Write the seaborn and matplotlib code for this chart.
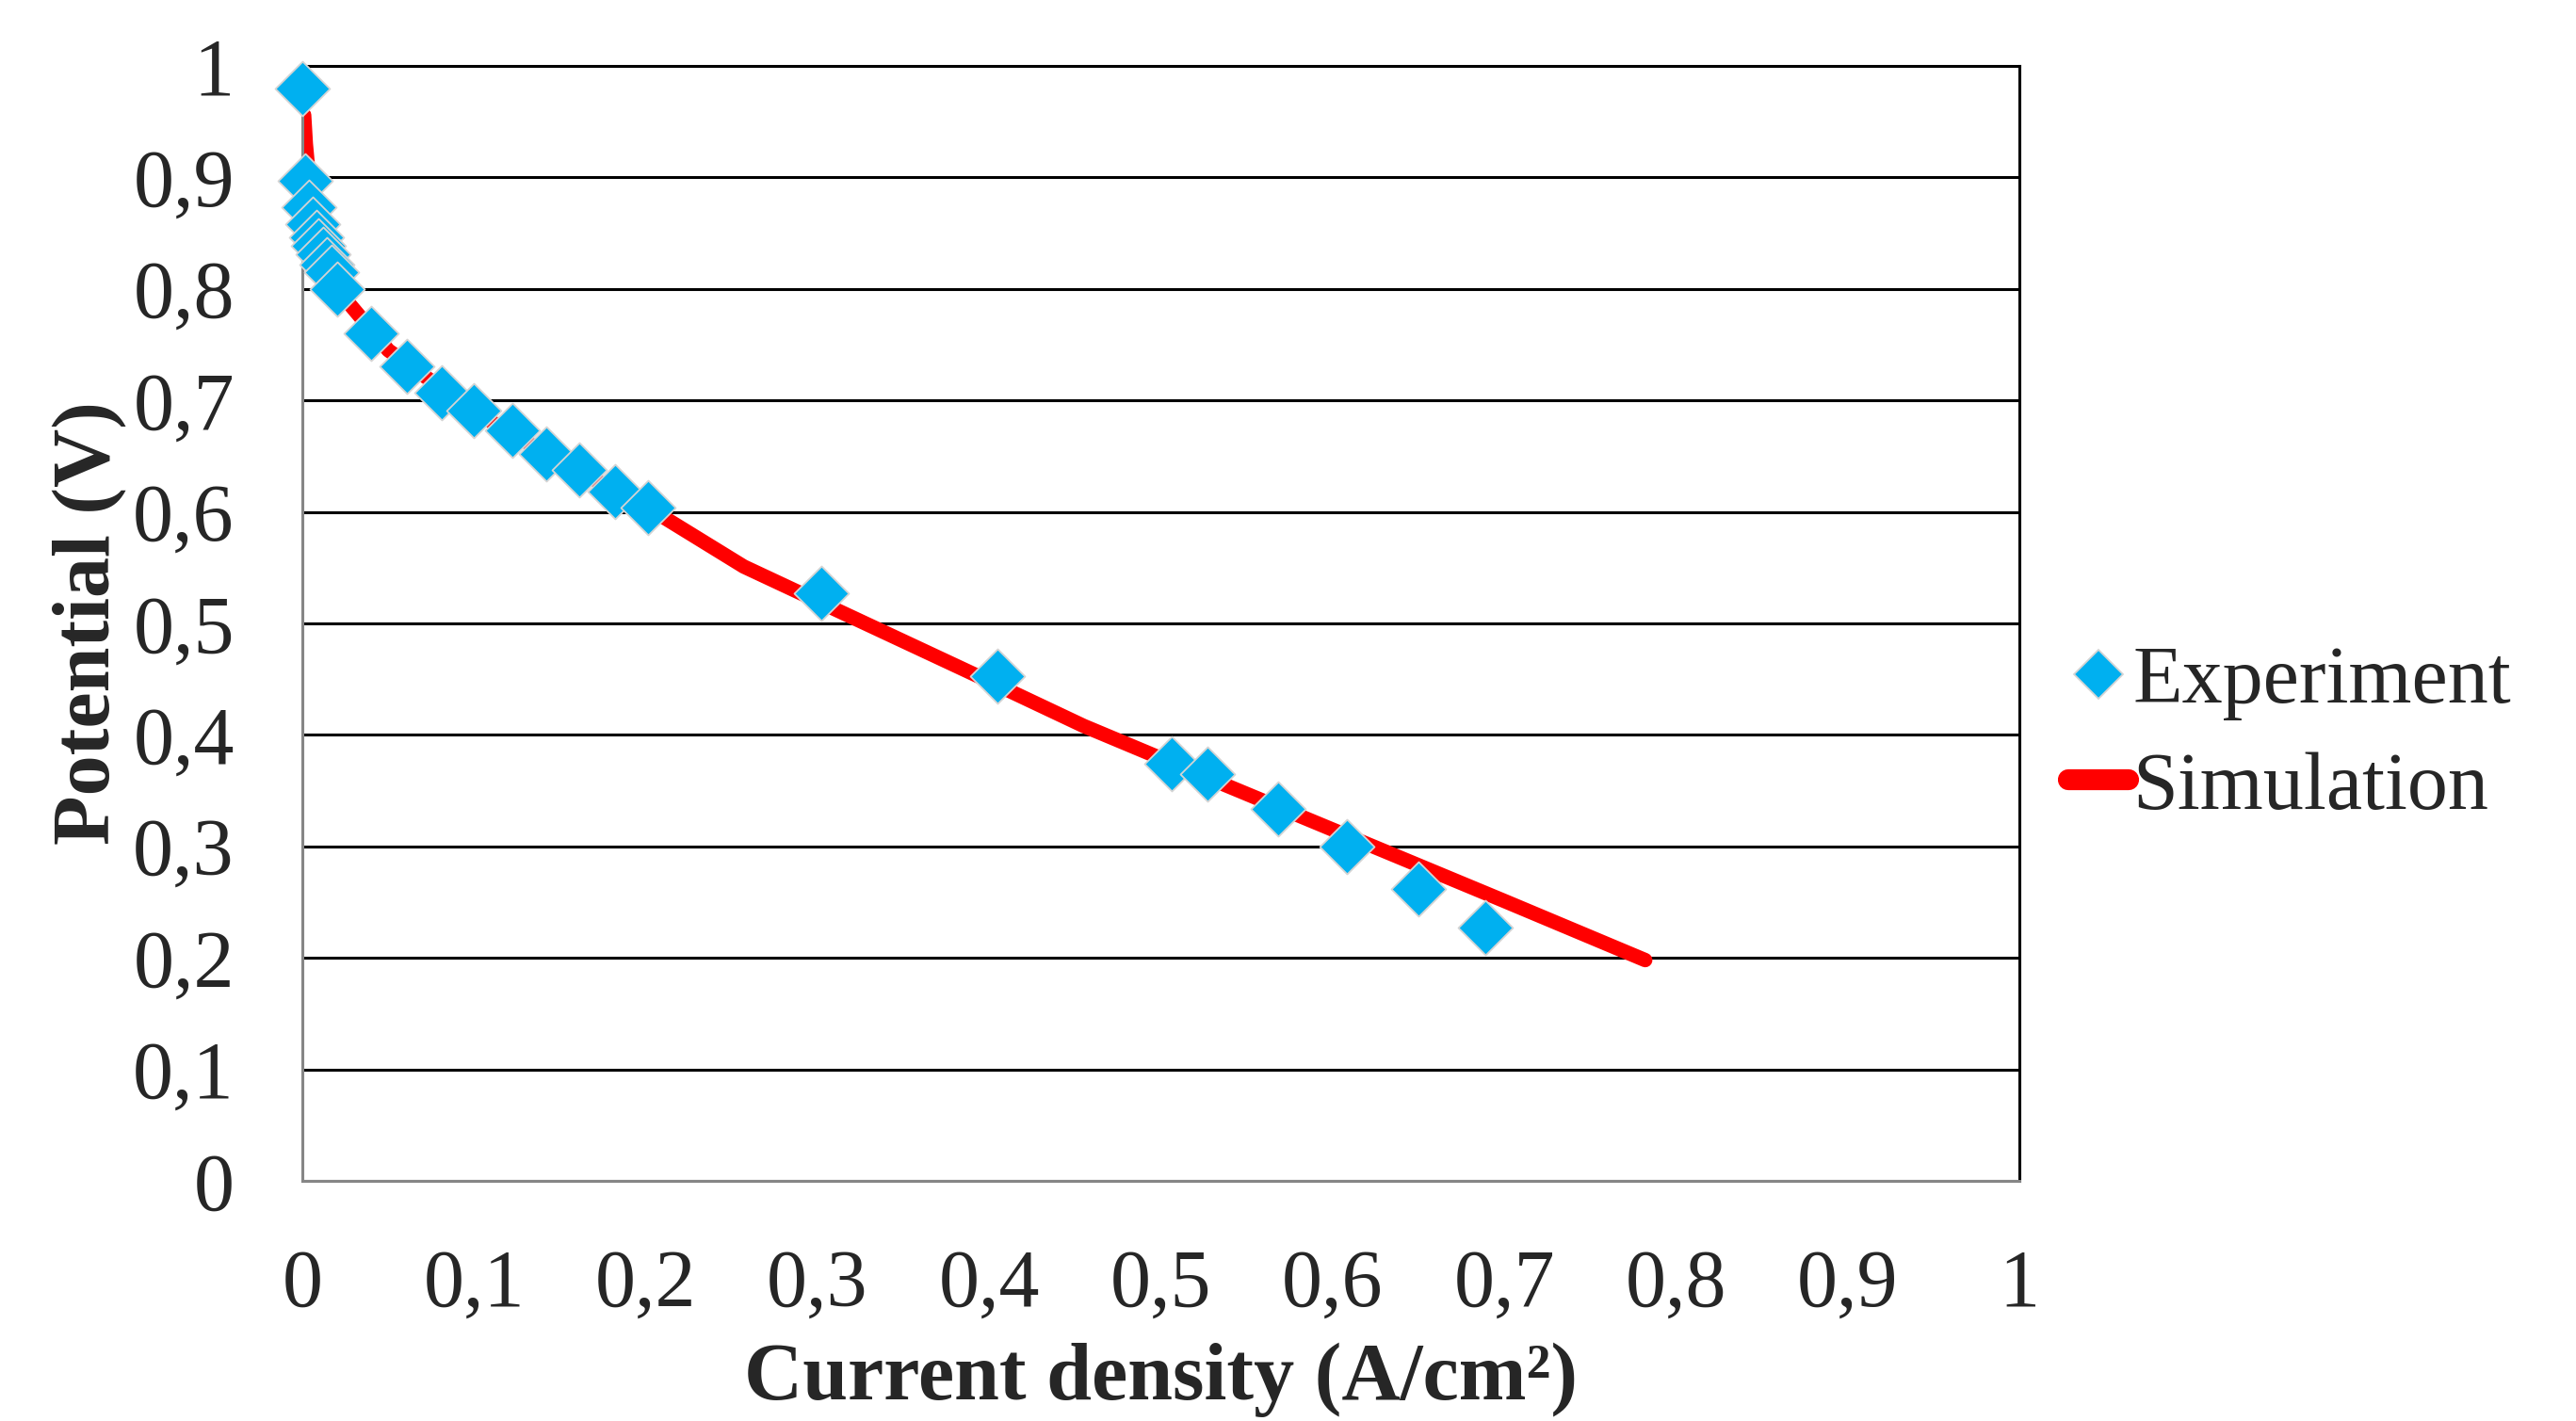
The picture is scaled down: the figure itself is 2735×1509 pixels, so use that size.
import matplotlib
matplotlib.use("Agg")
from matplotlib import pyplot as plt
from matplotlib.lines import Line2D
import pandas as pd
import seaborn as sns

# experiment points (current density A/cm2, potential V)
exp_current = [0.0, 0.0016, 0.004, 0.006, 0.008, 0.0095, 0.012, 0.014, 0.017, 0.020,
               0.040, 0.061, 0.081, 0.100, 0.1225, 0.142, 0.161, 0.182, 0.2015,
               0.302, 0.405, 0.506, 0.527, 0.568, 0.6085, 0.650, 0.689]
exp_potential = [0.980, 0.897, 0.873, 0.858, 0.846, 0.839, 0.831, 0.822, 0.815, 0.800,
                 0.760, 0.731, 0.707, 0.691, 0.673, 0.652, 0.638, 0.618, 0.604,
                 0.527, 0.453, 0.374, 0.365, 0.334, 0.300, 0.262, 0.227]

# simulation curve
sim_current = [0.001, 0.002, 0.005, 0.01, 0.02, 0.05, 0.1, 0.15, 0.2, 0.257,
               0.3, 0.4, 0.455, 0.5, 0.6, 0.7, 0.782]
sim_potential = [0.956, 0.93, 0.88, 0.845, 0.80, 0.745, 0.69, 0.645, 0.605, 0.551,
                 0.52, 0.448, 0.408, 0.379, 0.315, 0.251, 0.198]

x_ticks = [0, 0.1, 0.2, 0.3, 0.4, 0.5, 0.6, 0.7, 0.8, 0.9, 1]
tick_labels = ["0", "0,1", "0,2", "0,3", "0,4", "0,5", "0,6", "0,7", "0,8", "0,9", "1"]

BLUE = "#00B0F0"
RED = "#FF0000"

exp_df = pd.DataFrame({"current": exp_current, "potential": exp_potential})
sim_df = pd.DataFrame({"current": sim_current, "potential": sim_potential})

sns.set_style("white")
plt.rcParams['font.family'] = ['Liberation Serif', 'DejaVu Serif']

fig = plt.figure(figsize=(27.35, 15.09), dpi=100)
ax = fig.add_axes([0.1174, 0.169, 0.6666, 0.7846])

# horizontal gridlines
ax.yaxis.grid(True, color="black", linewidth=2.2)
ax.set_axisbelow(True)

sns.lineplot(data=sim_df, x="current", y="potential", ax=ax, color=RED,
             linewidth=11, solid_capstyle="round", solid_joinstyle="round",
             sort=False, estimator=None)
sns.scatterplot(data=exp_df, x="current", y="potential", ax=ax, color=BLUE,
                marker="D", s=29.5 ** 2, edgecolor="#d4d4d4", linewidth=1.3,
                zorder=3, clip_on=False)

ax.set_xlim(0, 1)
ax.set_ylim(0, 1)
ax.set_xticks(x_ticks)
ax.set_xticklabels(tick_labels)
ax.set_yticks(x_ticks)
ax.set_yticklabels(tick_labels)
ax.tick_params(axis="both", length=0, labelsize=62)
ax.tick_params(axis="x", pad=52)
ax.tick_params(axis="y", pad=52)

for side in ["left", "bottom"]:
    ax.spines[side].set_color("#868686")
    ax.spines[side].set_linewidth(2.2)
for side in ["top", "right"]:
    ax.spines[side].set_visible(True)
    ax.spines[side].set_color("black")
    ax.spines[side].set_linewidth(2.2)

ax.set_xlabel("Current density (A/cm²)", fontsize=62, fontweight="bold", labelpad=14)
ax.set_ylabel("Potential (V)", fontsize=62, fontweight="bold", labelpad=5)

handles = [
    Line2D([], [], color=BLUE, marker="D", markersize=26, linestyle="none",
           markeredgecolor="#d4d4d4", markeredgewidth=1.3),
    Line2D([], [], color=RED, linewidth=16, solid_capstyle="round"),
]
fig.legend(handles, ["Experiment", "Simulation"], loc="center left",
           bbox_to_anchor=(0.787, 0.482), frameon=False, fontsize=62,
           handlelength=0.75, handletextpad=0.05, labelspacing=0.38, borderpad=0)

fig.savefig("out.png", dpi=100)
